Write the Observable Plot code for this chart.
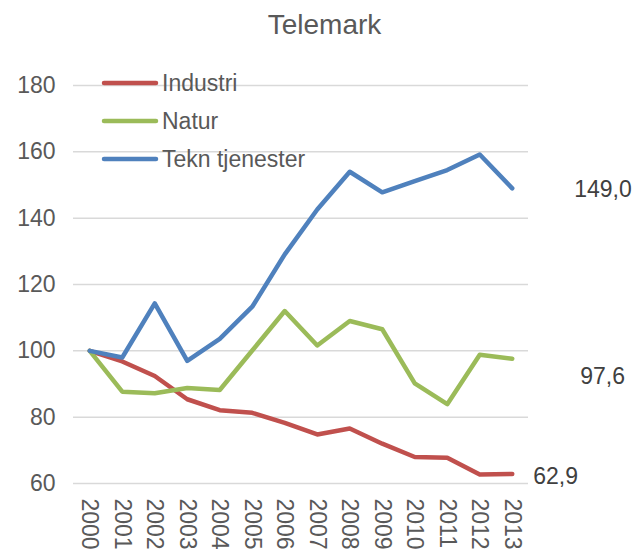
<!DOCTYPE html>
<html>
<head>
<meta charset="utf-8">
<script src="https://cdn.jsdelivr.net/npm/d3@7"></script>
<script src="https://cdn.jsdelivr.net/npm/@observablehq/plot@0.6"></script>
<style>
  html, body { margin: 0; padding: 0; background: #fff; }
  #wrap { position: relative; width: 635px; height: 550px; overflow: hidden; font-family: "Liberation Sans", Arial, sans-serif; }
  #title { position: absolute; left: 0; width: 649px; top: 9px; text-align: center; font-size: 28px; color: #595959; }
  #legend { position: absolute; left: 0; top: 0; }
</style>
</head>
<body>
<div id="wrap">
  <div id="chart"></div>
  <div id="title">Telemark</div>
  <svg id="legend" width="635" height="200"></svg>
</div>
<script>
const years = [2000, 2001, 2002, 2003, 2004, 2005, 2006, 2007, 2008, 2009, 2010, 2011, 2012, 2013];
const seriesNames = ["Industri", "Natur", "Tekn tjenester"];
const seriesColors = ["#C0504D", "#9BBB59", "#4F81BD"];
const industri = [100, 96.8, 92.4, 85.4, 82.1, 81.3, 78.3, 74.8, 76.6, 72.0, 68.0, 67.8, 62.7, 62.9];
const natur = [100, 87.7, 87.2, 88.8, 88.2, 100.1, 112.0, 101.6, 109.0, 106.5, 90.2, 83.9, 98.8, 97.6];
const tekn = [100, 98.0, 114.3, 97.0, 103.6, 113.3, 129.1, 142.6, 154.0, 147.8, 151.2, 154.5, 159.2, 149.0];
const yTicks = [60, 80, 100, 120, 140, 160, 180];
const endLabels = ["62,9", "97,6", "149,0"];

const seriesValues = [industri, natur, tekn];
const data = seriesNames.flatMap((s, i) => years.map((y, j) => ({series: s, year: y, value: seriesValues[i][j]})));
const last = seriesNames.map((s, i) => ({series: s, year: years[years.length - 1], value: seriesValues[i][years.length - 1], label: endLabels[i]}));

const textColor = "#595959";
const chart = Plot.plot({
  width: 635,
  height: 550,
  marginTop: 85,
  marginBottom: 67,
  marginLeft: 73,
  marginRight: 107,
  style: {fontFamily: "'Liberation Sans', Arial, sans-serif", fontSize: "23px", color: textColor, background: "white", overflow: "visible"},
  x: {type: "point", domain: years, padding: 0.5, round: false},
  y: {domain: [60, 180]},
  color: {domain: seriesNames, range: seriesColors},
  marks: [
    Plot.ruleY(yTicks, {stroke: "#d9d9d9", strokeWidth: 1.5}),
    Plot.axisY(yTicks, {tickSize: 0, tickPadding: 18, fontSize: 23, fill: textColor, label: null, tickFormat: d => String(d)}),
    Plot.axisX(years, {tickSize: 0, tickRotate: 90, tickPadding: 15, fontSize: 23, fill: textColor, label: null, tickFormat: d => String(d)}),
    Plot.line(data, {x: "year", y: "value", z: "series", stroke: "series", strokeWidth: 4.5, strokeLinecap: "round", strokeLinejoin: "round"}),
    Plot.text([last[2]], {x: "year", y: "value", text: "label", textAnchor: "start", dx: 62, dy: 1, fontSize: 23, fill: "#404040"}),
    Plot.text([last[1]], {x: "year", y: "value", text: "label", textAnchor: "start", dx: 68, dy: 18, fontSize: 23, fill: "#404040"}),
    Plot.text([last[0]], {x: "year", y: "value", text: "label", textAnchor: "start", dx: 21, dy: 3, fontSize: 23, fill: "#404040"})
  ]
});
document.getElementById("chart").appendChild(chart);

// legend
const leg = d3.select("#legend");
const legY = [83, 121, 159];
seriesNames.forEach((s, i) => {
  const g = leg.append("g").attr("transform", `translate(0,${legY[i]})`);
  g.append("line").attr("x1", 104).attr("x2", 156).attr("y1", 0).attr("y2", 0)
    .attr("stroke", seriesColors[i]).attr("stroke-width", 4.5).attr("stroke-linecap", "round");
  g.append("text").attr("x", 162).attr("y", 0).attr("dy", "0.35em")
    .attr("font-family", "'Liberation Sans', Arial, sans-serif").attr("font-size", 23)
    .attr("fill", textColor).text(s);
});
</script>
</body>
</html>
